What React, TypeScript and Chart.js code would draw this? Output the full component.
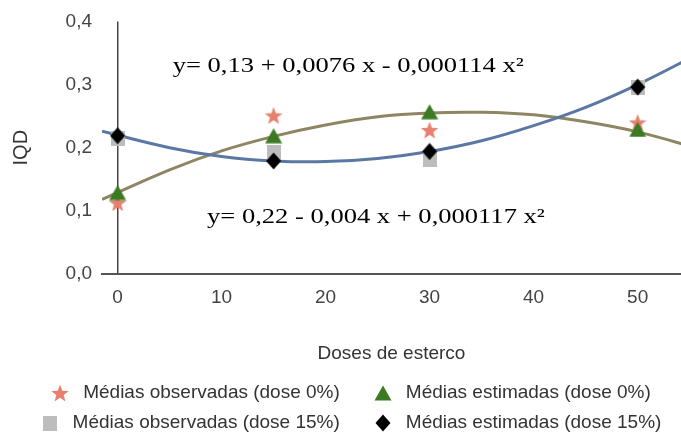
import React, { useEffect, useRef } from 'react';
import { Chart, registerables } from 'chart.js';

Chart.register(...registerables);

// ---------- data ----------
const doses = [0, 15, 30, 50];
const obsDose0 = [0.113, 0.251, 0.228, 0.24];
const estDose0 = [0.129, 0.219, 0.257, 0.229];
const obsDose15 = [0.214, 0.193, 0.182, 0.296];
const estDose15 = [0.219, 0.179, 0.194, 0.296];

// trend curves, read along the x axis
const curveX = [-1.5, 5, 10, 15, 20, 25, 30, 35, 40, 45, 50, 56];
const curveDose0 = [0.118, 0.165, 0.195, 0.218, 0.236, 0.249, 0.255, 0.256, 0.252, 0.241, 0.225, 0.198];
const curveDose15 = [0.226, 0.2, 0.186, 0.179, 0.178, 0.183, 0.194, 0.211, 0.235, 0.264, 0.3, 0.35];

const seriesLabels = [
  'Médias observadas (dose 0%)',
  'Médias estimadas (dose 0%)',
  'Médias observadas (dose 15%)',
  'Médias estimadas (dose 15%)',
];
const equations = ['y= 0,13 + 0,0076 x - 0,000114 x²', 'y= 0,22 - 0,004 x + 0,000117 x²'];
const equationAnchors = [
  { x: 5.3, y: 0.3194 },
  { x: 8.6, y: 0.0806 },
];
const xTitle = 'Doses de esterco';
const yTitle = 'IQD';

// ---------- styles ----------
const SANS = '"Liberation Sans", Arial, Helvetica, sans-serif';
const SERIF = '"Liberation Serif", "Times New Roman", serif';
const STAR = '#e8806f';
const GREEN = '#3b7a22';
const GRAY = '#bdbdbd';
const BLUE = '#5b78a5';
const TAN = '#8e8663';

function makeCanvas(w: number, h: number, draw: (c: CanvasRenderingContext2D) => void) {
  const c = document.createElement('canvas');
  c.width = w;
  c.height = h;
  const ctx = c.getContext('2d')!;
  draw(ctx);
  return c;
}

function makeMarkers() {
  const star = makeCanvas(20, 20, (c) => {
    const cx = 10, cy = 10.9, R = 9.3, r = 3.9;
    c.beginPath();
    for (let i = 0; i < 10; i++) {
      const a = -Math.PI / 2 + (i * Math.PI) / 5;
      const rr = i % 2 === 0 ? R : r;
      const px = cx + Math.cos(a) * rr, py = cy + Math.sin(a) * rr;
      if (i === 0) c.moveTo(px, py); else c.lineTo(px, py);
    }
    c.closePath();
    c.fillStyle = STAR;
    c.fill();
  });
  const tri = makeCanvas(18, 16, (c) => {
    c.beginPath();
    c.moveTo(9, 0.5);
    c.lineTo(17.5, 15.5);
    c.lineTo(0.5, 15.5);
    c.closePath();
    c.fillStyle = GREEN;
    c.fill();
  });
  const sq = makeCanvas(14, 15, (c) => {
    c.fillStyle = GRAY;
    c.fillRect(0, 0, 14, 15);
  });
  const dia = makeCanvas(16, 18, (c) => {
    c.beginPath();
    c.moveTo(8, 0.5);
    c.lineTo(15.5, 9);
    c.lineTo(8, 17.5);
    c.lineTo(0.5, 9);
    c.closePath();
    c.fillStyle = '#000';
    c.fill();
  });
  return [star, tri, sq, dia];
}

const pts = (xs: number[], ys: number[]) => xs.map((x, i) => ({ x, y: ys[i] }));

export default function App() {
  const ref = useRef<HTMLCanvasElement>(null);

  useEffect(() => {
    if (!ref.current) return;
    const markers = makeMarkers();

    const equationPlugin = {
      id: 'equations',
      afterDraw(chart: any) {
        const { ctx, scales } = chart;
        ctx.save();
        ctx.font = `21px ${SERIF}`;
        ctx.fillStyle = '#000';
        ctx.textBaseline = 'alphabetic';
        ctx.textAlign = 'left';
        equations.forEach((t, i) => {
          const px = scales.x.getPixelForValue(equationAnchors[i].x);
          const py = scales.y.getPixelForValue(equationAnchors[i].y);
          ctx.save();
          ctx.translate(px, py);
          ctx.scale(1.264, 1);
          ctx.fillText(t, 0, 0);
          ctx.restore();
        });
        ctx.restore();
      },
    };

    const legendPlugin = {
      id: 'customLegend',
      afterDraw(chart: any) {
        const ctx = chart.ctx;
        const ds = chart.data.datasets;
        ctx.save();
        ctx.font = `19px ${SANS}`;
        ctx.fillStyle = '#333';
        ctx.textBaseline = 'middle';
        ctx.textAlign = 'left';
        const rows = [[0, 1], [2, 3]];
        const BOX = 18, GAP = 14, ITEM_GAP = 34, CX = 351, TOP = 393, ROW_H = 30;
        rows.forEach((row, r) => {
          const widths = row.map((i) => BOX + GAP + ctx.measureText(ds[i].label).width);
          const total = widths.reduce((a, b) => a + b, 0) + ITEM_GAP * (row.length - 1);
          let x = CX - total / 2;
          const y = TOP + r * ROW_H;
          row.forEach((i, k) => {
            const img = markers[i];
            ctx.drawImage(img, Math.round(x + BOX / 2 - img.width / 2), Math.round(y - img.height / 2));
            ctx.fillText(ds[i].label, x + BOX + GAP, y);
            x += widths[k] + ITEM_GAP;
          });
        });
        ctx.restore();
      },
    };

    const chart = new Chart(ref.current, {
      type: 'scatter',
      data: {
        datasets: [
          { label: seriesLabels[0], data: pts(doses, obsDose0), pointStyle: markers[0] as any, pointRadius: 9, order: 3 },
          { label: seriesLabels[1], data: pts(doses, estDose0), pointStyle: markers[1] as any, pointRadius: 9, order: 1 },
          { label: seriesLabels[2], data: pts(doses, obsDose15), pointStyle: markers[2] as any, pointRadius: 8, order: 2 },
          { label: seriesLabels[3], data: pts(doses, estDose15), pointStyle: markers[3] as any, pointRadius: 9, order: 0 },
          {
            label: 'Tendência (dose 0%)', data: pts(curveX, curveDose0), showLine: true, borderColor: TAN,
            borderWidth: 3, pointRadius: 0, tension: 0.4, order: 5,
          },
          {
            label: 'Tendência (dose 15%)', data: pts(curveX, curveDose15), showLine: true, borderColor: BLUE,
            borderWidth: 3, pointRadius: 0, tension: 0.4, order: 4,
          },
        ],
      },
      options: {
        responsive: false,
        animation: false,
        events: [],
        layout: { padding: { top: 21, bottom: 61.5, left: 0, right: 0 } },
        plugins: { legend: { display: false }, tooltip: { enabled: false } },
        scales: {
          x: {
            type: 'linear',
            min: -1.5,
            max: 54.17,
            ticks: { stepSize: 10, includeBounds: false, padding: 0, color: '#444', font: { size: 19, family: SANS }, maxRotation: 0 },
            grid: {
              drawTicks: true,
              tickLength: 12,
              tickColor: 'rgba(0,0,0,0)',
              color: (c: any) => (c.tick && c.tick.value === 0 ? '#444' : 'rgba(0,0,0,0)'),
              lineWidth: 1.5,
            },
            border: { display: true, color: '#555', width: 2 },
            title: { display: true, text: xTitle, color: '#333', font: { size: 19, family: SANS }, padding: { top: 0, bottom: 7 } },
            afterFit: (s: any) => {
              s.height = 98.5;
            },
          },
          y: {
            min: 0,
            max: 0.4,
            ticks: {
              stepSize: 0.1, padding: 10, color: '#444', font: { size: 19, family: SANS },
              callback: (v: any) => Number(v).toFixed(1).replace('.', ','),
            },
            grid: { display: false, drawTicks: false },
            border: { display: false },
            title: { display: true, text: yTitle, color: '#333', font: { size: 20, family: SANS }, padding: { top: 9, bottom: 0 } },
            afterFit: (s: any) => {
              s.width = 102;
            },
          },
        },
      },
      plugins: [equationPlugin, legendPlugin],
    } as any);

    return () => chart.destroy();
  }, []);

  return (
    <div style={{ position: 'absolute', left: 0, top: 0, width: 681, height: 434, overflow: 'hidden', background: '#fff' }}>
      <canvas ref={ref} width={691} height={434} style={{ display: 'block', width: 691, height: 434 }} />
    </div>
  );
}
